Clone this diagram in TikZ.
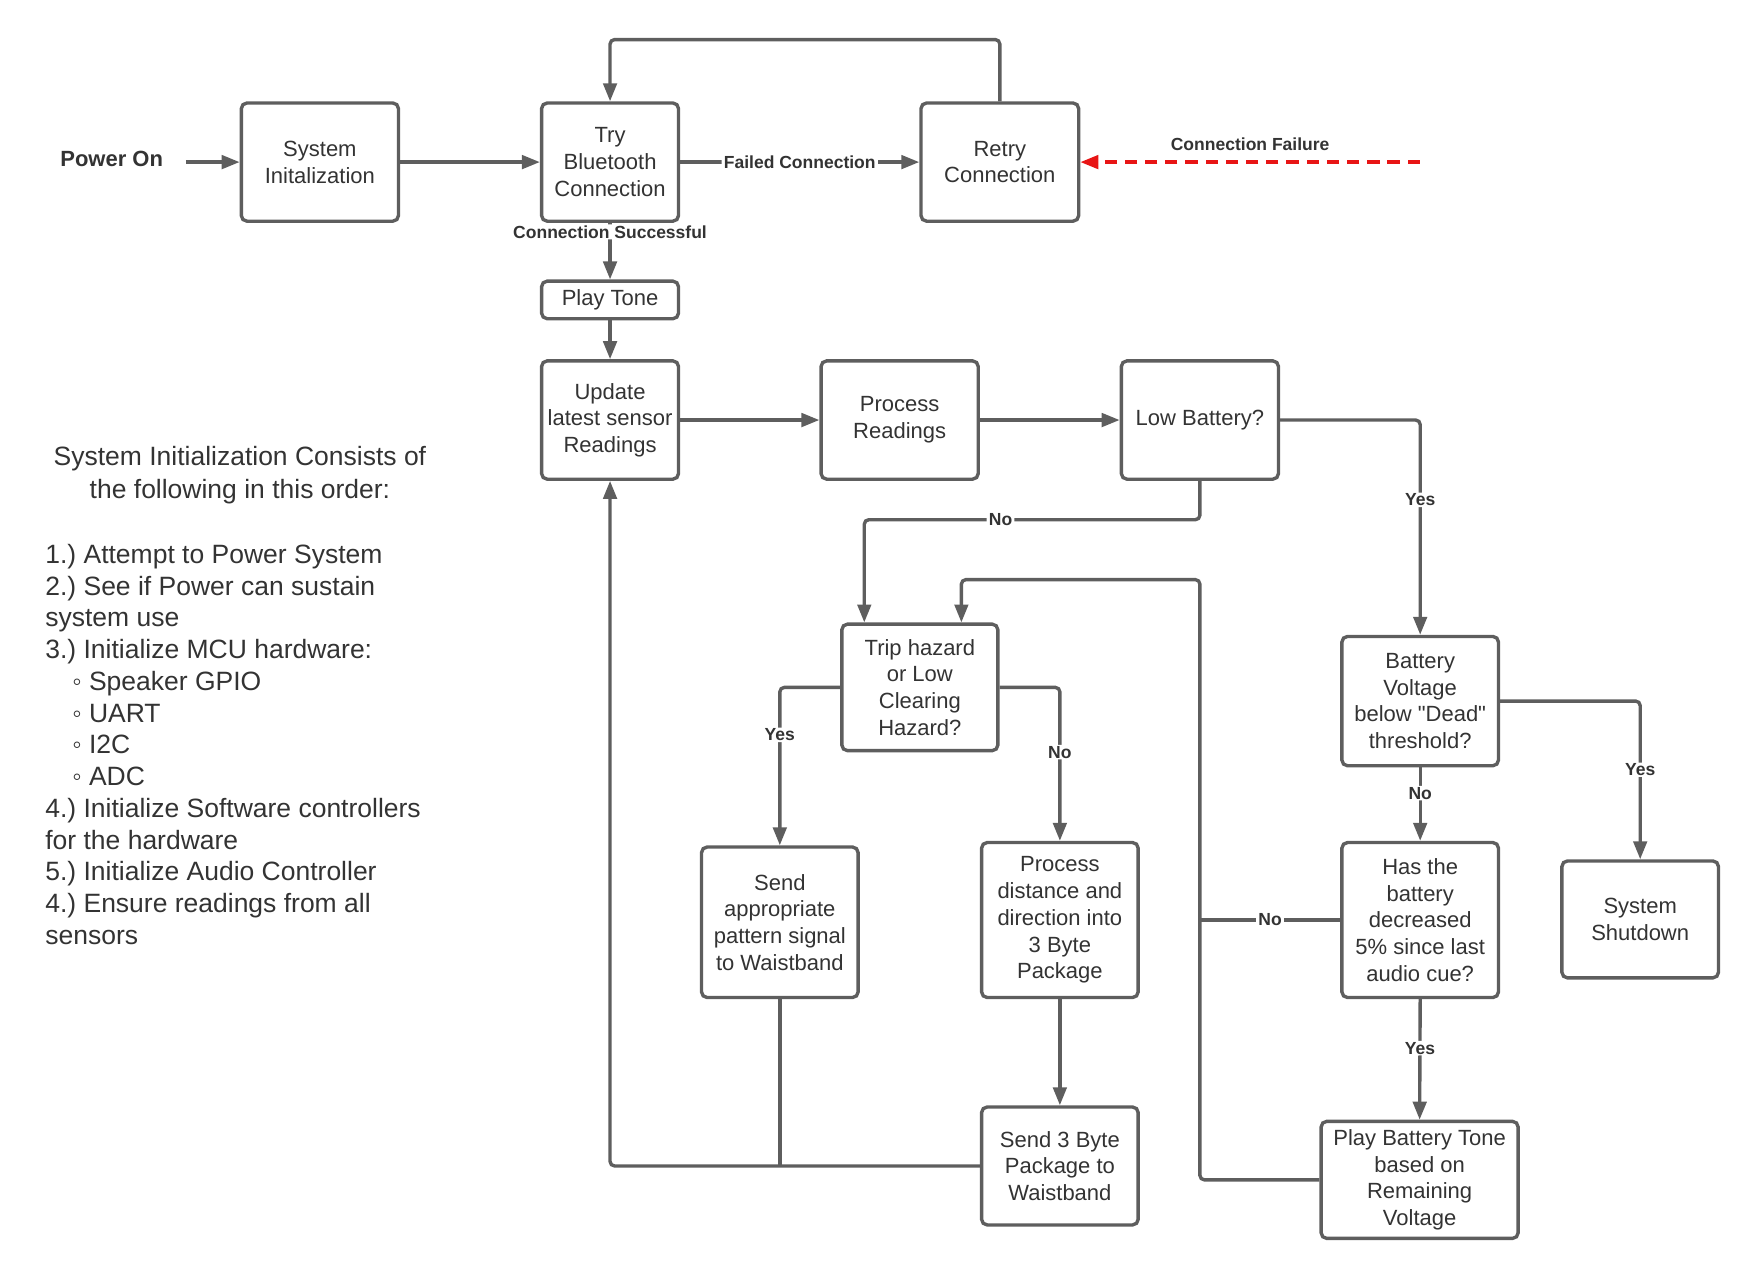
\documentclass[tikz,border=0pt]{standalone}
\usepackage{fontspec}
\setmainfont{Liberation Sans}
\usetikzlibrary{arrows.meta}
\definecolor{linegray}{RGB}{94,94,94}
\definecolor{textgray}{RGB}{51,51,51}
\definecolor{failred}{RGB}{232,21,21}
\tikzset{flowbox/.style={draw=linegray, line width=1.5pt, rounded corners=2.5pt, fill=white, align=center, text=textgray, font=\fontsize{9.8}{11.9}\selectfont, inner sep=1pt}}
\tikzset{flowline/.style={draw=linegray, line width=1.5pt, rounded corners=2pt}}
\tikzset{flowarrow/.style={flowline, -{Triangle[length=8pt, width=6pt]}}}
\tikzset{flowlabel/.style={fill=white, text=textgray, font=\fontsize{7.8}{9}\selectfont\bfseries, inner xsep=1pt, inner ysep=0.5pt}}
\tikzset{failarrow/.style={draw=failred, line width=1.5pt, dash pattern=on 5.5pt off 3.5pt, -{Triangle[length=8pt, width=6pt]}}}
\tikzset{notetext/.style={text=textgray, font=\fontsize{11.8}{14.15}\selectfont, inner sep=0pt}}
\frenchspacing

\begin{document}
\begin{tikzpicture}[x=0.5pt, y=-0.5pt]
            \useasboundingbox (0,0) rectangle (1568,1141.3);
            % start and bluetooth
            \node[text=textgray, font=\fontsize{9.8}{12}\selectfont\bfseries, inner xsep=10pt] (power) at (99.5,141.8) {Power On};
            \node[flowbox, minimum width=70pt, minimum height=52.65pt] (sysinit) at (285,144.4) {System\\Initalization};
            \node[flowbox, minimum width=61pt, minimum height=52.65pt] (trybt) at (543.5,144.4) {Try\\Bluetooth\\Connection};
            \node[flowbox, minimum width=70.25pt, minimum height=52.65pt] (retry) at (890.75,144.4) {Retry\\Connection};
            \node[flowbox, minimum width=61pt, minimum height=16.75pt] (tone) at (543.5,267.2) {Play Tone};
            % sensor loop
            \node[flowbox, minimum width=61pt, minimum height=52.7pt] (update) at (543.5,374.2) {Update\\latest sensor\\Readings};
            \node[flowbox, minimum width=70pt, minimum height=52.7pt] (process) at (801.5,374.2) {Process\\Readings};
            \node[flowbox, minimum width=70pt, minimum height=52.7pt] (lowbat) at (1069,374.2) {Low Battery?};
            \node[flowbox, minimum width=69.5pt, minimum height=56.35pt] (trip) at (819.5,612.4) {Trip hazard\\or Low\\Clearing\\Hazard?};
            \node[flowbox, minimum width=69.75pt, minimum height=67.05pt] (sendpat) at (694.75,821.65) {Send\\appropriate\\pattern signal\\to Waistband};
            \node[flowbox, minimum width=69.75pt, minimum height=69.05pt] (procdist) at (944.25,819.65) {Process\\distance and\\direction into\\3 Byte\\Package};
            \node[flowbox, minimum width=69.75pt, minimum height=52.55pt] (send3) at (944.25,1038.75) {Send 3 Byte\\Package to\\Waistband};
            % battery checks
            \node[flowbox, minimum width=69.75pt, minimum height=57.6pt] (dead) at (1265.25,624.6) {Battery\\Voltage\\below \textquotedbl Dead\textquotedbl\\threshold?};
            \node[flowbox, minimum width=69.75pt, minimum height=69.05pt] (hasbat) at (1265.25,819.65) {Has the\\battery\\decreased\\5\% since last\\audio cue?};
            \node[flowbox, minimum width=87.75pt, minimum height=52.15pt] (playbat) at (1264.75,1051.15) {Play Battery Tone\\based on\\Remaining\\Voltage};
            \node[flowbox, minimum width=69.75pt, minimum height=52.1pt] (shutdown) at (1461.25,819.1) {System\\Shutdown};
            % notes on the left
            \node[notetext, align=center, font=\fontsize{11.8}{14.55}\selectfont] (inittitle) at (213.75,423.1) {System Initialization Consists of\\the following in this order:};
            \node[notetext, align=left, anchor=north west] (initsteps) at (40,484.3) {1.) Attempt to Power System\\2.) See if Power can sustain\\system use\\3.) Initialize MCU hardware:\\\hspace*{12pt}◦ Speaker GPIO\\\hspace*{12pt}◦ UART\\\hspace*{12pt}◦ I2C\\\hspace*{12pt}◦ ADC\\4.) Initialize Software controllers\\for the hardware\\5.) Initialize Audio Controller\\4.) Ensure readings from all\\sensors};
            \coordinate (failsrc) at (1265,144.4);
            \coordinate (loopturn) at (1069,516.4);
            % connectors
            \draw[flowarrow] (power.east |- sysinit.west) -- (sysinit.west);
            \draw[flowarrow] (sysinit.east) -- (trybt.west);
            \draw[flowarrow] (trybt.east) -- node[flowlabel] {Failed Connection} (retry.west);
            \draw[flowarrow] (retry.north) -- ++(0,-55) -| (trybt.north);
            \draw[failarrow] (failsrc) -- node[flowlabel, above=4pt] {Connection Failure} (retry.east);
            \draw[flowarrow] (trybt.south) -- node[flowlabel, pos=0.16] {Connection Successful} (tone.north);
            \draw[flowarrow] (tone.south) -- (update.north);
            \draw[flowarrow] (update.east) -- (process.west);
            \draw[flowarrow] (process.east) -- (lowbat.west);
            \draw[flowarrow] (lowbat.east) -| node[flowlabel, pos=0.686] {Yes} (dead.north);
            \draw[flowarrow] (lowbat.south) -- ++(0,34.6) -| node[flowlabel, pos=0.297] {No} ([xshift=-24.75pt]trip.north);
            \draw[flowarrow] (trip.west) -| node[flowlabel, pos=0.65] {Yes} (sendpat.north);
            \draw[flowarrow] (trip.east) -| node[flowlabel, pos=0.711] {No} (procdist.north);
            \draw[flowarrow] (procdist.south) -- (send3.north);
            \draw[flowarrow] (send3.west) -| (update.south);
            \draw[flowline] (sendpat.south) -- (sendpat.south |- send3.west);
            \draw[flowarrow] (dead.east) -| node[flowlabel, pos=0.717] {Yes} (shutdown.north);
            \draw[flowarrow] (dead.south) -- node[flowlabel, pos=0.35] {No} (hasbat.north);
            \draw[flowarrow] (hasbat.south) -- node[flowlabel, pos=0.406] {Yes} (playbat.north);
            \draw[flowline] (hasbat.west) -- node[flowlabel] {No} (hasbat.west -| loopturn);
            \draw[flowarrow] (playbat.west) -| (loopturn) -| ([xshift=18.5pt]trip.north);
        \end{tikzpicture}
\end{document}
